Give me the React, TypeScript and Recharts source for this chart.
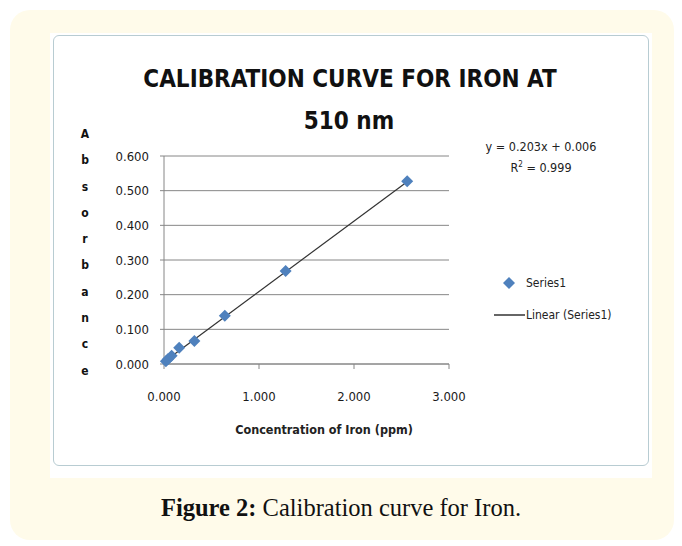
import React from 'react';
import {
  ScatterChart,
  Scatter,
  XAxis,
  YAxis,
  CartesianGrid,
} from 'recharts';

// concentration (ppm) vs absorbance
const concentration = [0.02, 0.04, 0.08, 0.16, 0.32, 0.64, 1.28, 2.56];
const absorbance = [0.008, 0.014, 0.024, 0.047, 0.066, 0.139, 0.268, 0.527];

// linear trendline endpoints as drawn
const trendX = [0.02, 2.56];
const trendY = [0.01, 0.526];

const xTicks = [0, 1, 2, 3];
const yTicks = [0, 0.1, 0.2, 0.3, 0.4, 0.5, 0.6];
const yLabelLetters = ['A', 'b', 's', 'o', 'r', 'b', 'a', 'n', 'c', 'e'];

const points = concentration.map((x, i) => ({ x, y: absorbance[i] }));
const trend = trendX.map((x, i) => ({ x, y: trendY[i] }));

const BLUE = '#4f81bd';
const AXIS = '#868686';
const FONT = "'DejaVu Sans Condensed', 'DejaVu Sans', sans-serif";

const Diamond = (props: any) => {
  const { cx, cy } = props;
  const r = 6;
  return (
    <polygon
      points={`${cx},${cy - r} ${cx + r},${cy} ${cx},${cy + r} ${cx - r},${cy}`}
      fill={BLUE}
    />
  );
};

const LegendBox = () => (
  <div style={{ fontFamily: FONT, fontSize: 12, color: '#222' }}>
    <div style={{ display: 'flex', alignItems: 'center', height: 20 }}>
      <svg width={32} height={14}>
        <polygon points="15,1 21,7 15,13 9,7" fill={BLUE} />
      </svg>
      <span>Series1</span>
    </div>
    <div style={{ display: 'flex', alignItems: 'center', height: 20, marginTop: 12 }}>
      <svg width={32} height={14}>
        <line x1={0} y1={7} x2={31} y2={7} stroke="#333" strokeWidth={1.5} />
      </svg>
      <span>Linear (Series1)</span>
    </div>
  </div>
);

export default function App() {
  return (
    <div
      style={{
        position: 'absolute',
        left: 0,
        top: 0,
        width: 682,
        height: 546,
        background: '#fff',
      }}
    >
      <div
        style={{
          position: 'absolute',
          left: 10,
          top: 10,
          width: 664,
          height: 530,
          background: '#fffbea',
          borderRadius: 20,
        }}
      />
      <div
        style={{
          position: 'absolute',
          left: 50,
          top: 33,
          width: 602,
          height: 445,
          background: '#fff',
        }}
      />
      <div
        style={{
          position: 'absolute',
          left: 53,
          top: 35,
          width: 596,
          height: 431,
          border: '1.5px solid #b8ccd2',
          borderRadius: 6,
          boxSizing: 'border-box',
        }}
      >
        <div
          style={{
            position: 'absolute',
            left: 0,
            width: 596,
            top: 22,
            textAlign: 'center',
            fontFamily: FONT,
            fontWeight: 'bold',
            fontSize: 24,
            lineHeight: '42px',
            color: '#111',
          }}
        >
          <div style={{ marginLeft: -4 }}>CALIBRATION CURVE FOR IRON AT</div>
          <div style={{ marginLeft: -6 }}>510 nm</div>
        </div>
        <div
          style={{
            position: 'absolute',
            left: 26,
            top: 85,
            width: 10,
            fontFamily: FONT,
            fontWeight: 'bold',
            fontSize: 12,
            color: '#111',
            textAlign: 'center',
          }}
        >
          {yLabelLetters.map((l, i) => (
            <div key={i} style={{ height: 26.3, lineHeight: '26.3px' }}>
              {l}
            </div>
          ))}
        </div>
        <div
          style={{
            position: 'absolute',
            left: 415,
            width: 144,
            top: 102,
            textAlign: 'center',
            fontFamily: FONT,
            fontSize: 12.5,
            lineHeight: '18px',
            color: '#222',
          }}
        >
          <div>y = 0.203x + 0.006</div>
          <div>
            R<sup style={{ fontSize: 8 }}>2</sup> = 0.999
          </div>
        </div>
        <div style={{ position: 'absolute', left: 440, top: 237, width: 150 }}>
          <LegendBox />
        </div>
        <div
          style={{
            position: 'absolute',
            left: 0,
            width: 540,
            top: 386,
            textAlign: 'center',
            fontFamily: FONT,
            fontWeight: 'bold',
            fontSize: 12.5,
            color: '#222',
          }}
        >
          Concentration of Iron (ppm)
        </div>
        <div style={{ position: 'absolute', left: -1.5, top: -1.5 }}>
          <ScatterChart
            width={596}
            height={431}
            margin={{ top: 121, right: 200, bottom: 72, left: 51 }}
          >
            <CartesianGrid horizontal vertical={false} stroke={AXIS} strokeWidth={1} />
            <XAxis
              type="number"
              dataKey="x"
              domain={[0, 3]}
              ticks={xTicks}
              tickFormatter={(v: number) => v.toFixed(3)}
              stroke={AXIS}
              tickSize={5}
              tickMargin={23}
              height={30}
              tick={{ fill: '#1a1a1a', fontSize: 13, fontFamily: FONT }}
            />
            <YAxis
              type="number"
              dataKey="y"
              domain={[0, 0.6]}
              ticks={yTicks}
              tickFormatter={(v: number) => v.toFixed(3)}
              stroke={AXIS}
              tickSize={4}
              tickMargin={11}
              width={60}
              tick={{ fill: '#1a1a1a', fontSize: 13, fontFamily: FONT }}
            />
            <Scatter
              name="Linear (Series1)"
              data={trend}
              line={{ stroke: '#333', strokeWidth: 1.2 }}
              shape={() => <g />}
              isAnimationActive={false}
            />
            <Scatter
              name="Series1"
              data={points}
              shape={Diamond}
              isAnimationActive={false}
            />
          </ScatterChart>
        </div>
      </div>
      <div
        style={{
          position: 'absolute',
          left: 0,
          width: 682,
          top: 494,
          textAlign: 'center',
          fontFamily: "'Liberation Serif', 'DejaVu Serif', serif",
          fontSize: 24.5,
          color: '#111',
        }}
      >
        <b>Figure 2:</b> Calibration curve for Iron.
      </div>
    </div>
  );
}
